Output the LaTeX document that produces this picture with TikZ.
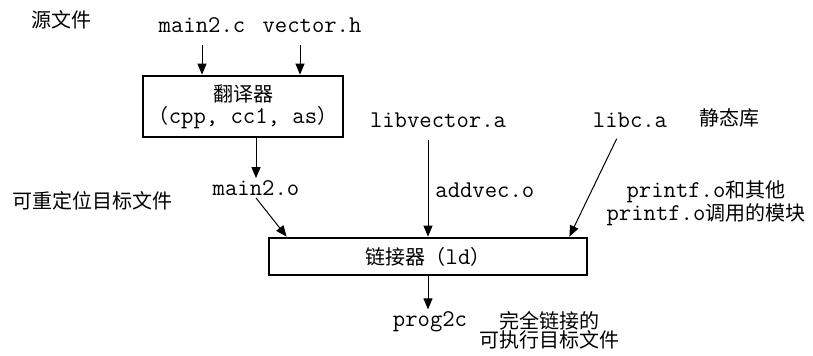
\documentclass[tikz,border=0pt]{standalone}
\usepackage{fontspec}
\newfontfamily\cjk{Noto Sans CJK SC}
\usetikzlibrary{positioning,arrows.meta}

\begin{document}
\begin{tikzpicture}[
    x=0.5pt, y=-0.5pt,
    file/.style={font=\fontsize{12}{12}\selectfont\ttfamily, inner sep=1pt},
    note/.style={font=\fontsize{10}{11.5}\selectfont\cjk, inner sep=1pt, align=center},
    tool/.style={rectangle, draw, line width=1.4pt, font=\fontsize{10}{11}\selectfont, align=center, inner sep=1pt},
    flow/.style={-{Triangle[length=5.5pt,width=4.5pt]}, line width=0.5pt},
]
\useasboundingbox (0,0) rectangle (813,355);

% tools
\node[tool, minimum width=100pt, minimum height=30.5pt] (trans) at (243,106.5)
    {{\cjk 翻译器}\\{\cjk （}{\fontsize{12}{12}\selectfont\ttfamily cpp, cc1, as}{\cjk ）}};
\node[tool, minimum width=159pt, minimum height=18.5pt] (link) at (428,256.5)
    {{\cjk 链接器（}{\fontsize{12}{12}\selectfont\ttfamily ld}{\cjk ）}};

% files
\node[file] (main2c) at (202,25) {main2.c};
\node[file] (vech) at (312,25) {vector.h};
\node[file] (main2o) at (256,188) {main2.o};
\node[file] (libvec) at (438,120) {libvector.a};
\node[file] (libc) at (630,120) {libc.a};
\node[file] (prog) at (430,322) {prog2c};
\node[file, anchor=west] (addvec) at (433,190) {addvec.o};

% notes
\node[note] (src) at (62,20) {源文件};
\node[note] (reloc) at (92,201) {可重定位目标文件};
\node[note] (static) at (729,118) {静态库};
\node[note] (printf) at (706,203)
    {{\fontsize{12}{12}\selectfont\ttfamily printf.o}和其他\\{\fontsize{12}{12}\selectfont\ttfamily printf.o}调用的模块};
\node[note, font=\fontsize{10}{9.5}\selectfont\cjk] (exe) at (549,330) {完全链接的\\可执行目标文件};

% connectors
\draw[flow, shorten <=5pt] (main2c.south) -- (main2c.south |- trans.north);
\draw[flow, shorten <=5pt] (vech.south -| 300,0) -- (trans.north -| 300,0);
\draw[flow] (trans.south -| main2o) -- (main2o.north);
\draw[flow] (main2o.south) -- ([xshift=9.5pt]link.north west);
\draw[flow, shorten <=5pt] (libvec.south -| link.north) -- (link.north);
\draw[flow, shorten <=5pt] ([xshift=-4.5pt]libc.south) -- ([xshift=-9.5pt]link.north east);
\draw[flow] (link.south) -- (link.south |- prog.north);
\end{tikzpicture}
\end{document}
